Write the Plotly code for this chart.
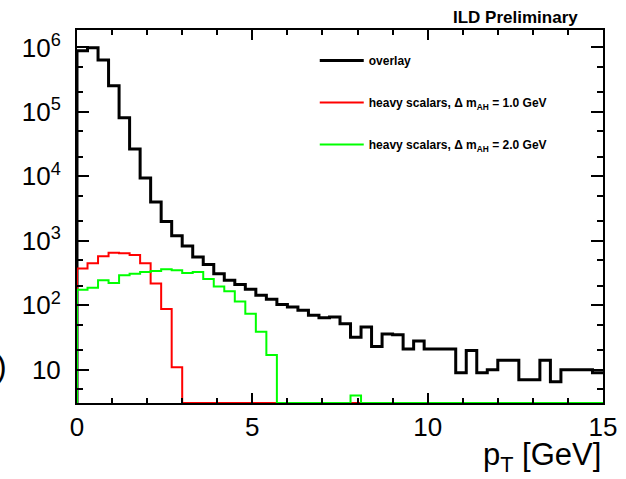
"""
p_T spectrum of overlay vs heavy scalar signals (ILD Preliminary), log scale.
"""

import numpy as np
import plotly.graph_objects as go

# 50 bins of 0.3 GeV between 0 and 15 GeV
BIN_EDGES = np.linspace(0, 15, 51)

overlay = [
    8.9e5, 9.9e5, 6.4e5, 2.55e5, 8.1e4, 2.65e4, 9.4e3, 4.0e3, 2.0e3, 1.2e3,
    830, 560, 430, 310, 244, 210, 177, 143, 124, 103,
    94, 84, 70, 64, 66, 52, 32, 46, 23, 36,
    35, 21, 28, 21, 21, 21, 9, 20, 9, 10,
    14, 14, 7, 7, 14, 6.5, 10, 10, 10, 9,
]
scalars_1gev = [371, 448, 575, 652, 640, 603, 448, 217, 88, 11] + [0] * 40
scalars_2gev = ([175, 188, 244, 222, 292, 310, 329, 341, 362, 349,
                 317, 329, 255, 195, 166, 115, 74, 39, 17]
                + [0] * 7 + [4] + [0] * 23)

names = [
    "<b>overlay</b>",
    "<b>heavy scalars, Δ m<sub>AH</sub> = 1.0 GeV</b>",
    "<b>heavy scalars, Δ m<sub>AH</sub> = 2.0 GeV</b>",
]
colors = ["black", "#ff0000", "#00ff00"]
widths = [3, 2, 2]

Y_MIN_LOG = 0.485
Y_MAX_LOG = 6.27
FLOOR = 10 ** Y_MIN_LOG   # empty bins are drawn on the axis, as ROOT does

FONT = "Liberation Sans, Arial, sans-serif"


def step_xy(counts):
    c = np.maximum(np.asarray(counts, dtype=float), FLOOR)
    x = np.concatenate([[BIN_EDGES[0]], BIN_EDGES])
    y = np.concatenate([[FLOOR], c, [c[-1]]])
    return x, y


fig = go.Figure()
for i, (counts, name, col, w) in enumerate(
        zip([overlay, scalars_1gev, scalars_2gev], names, colors, widths)):
    x, y = step_xy(counts)
    fig.add_trace(go.Scatter(
        x=x, y=y, mode="lines", name=name,
        line=dict(color=col, width=w, shape="hv"),
        legendgroup=f"g{i}",
    ))

ytickvals = [10 ** k for k in range(1, 7)]
yticktext = ["10"] + [f"10<sup>{k}</sup>" for k in range(2, 7)]

fig.update_layout(
    width=626, height=479,
    margin=dict(l=77, r=23, t=30, b=76),
    paper_bgcolor="white", plot_bgcolor="white",
    font=dict(family=FONT, color="black"),
    showlegend=True,
    legend=dict(
        x=0.452, y=0.957, xanchor="left", yanchor="top",
        bgcolor="rgba(0,0,0,0)", borderwidth=0,
        font=dict(size=12, family=FONT),
        traceorder="grouped", tracegroupgap=23,
        itemwidth=44,
    ),
    xaxis=dict(
        range=[0, 15], dtick=5, tick0=0, automargin=False,
        showgrid=False, zeroline=False,
        showline=True, linecolor="black", linewidth=2, mirror="allticks",
        ticks="inside", ticklen=10, tickwidth=1.5, tickcolor="black",
        minor=dict(dtick=1, ticks="inside", ticklen=5, tickwidth=1.5,
                   tickcolor="black", showgrid=False),
        tickfont=dict(size=26, family=FONT),
    ),
    yaxis=dict(
        type="log", range=[Y_MIN_LOG, Y_MAX_LOG], automargin=False,
        tickvals=ytickvals, ticktext=yticktext,
        showgrid=False, zeroline=False,
        showline=True, linecolor="black", linewidth=2, mirror="allticks",
        ticks="inside", ticklen=12, tickwidth=1.5, tickcolor="black",
        minor=dict(ticks="inside", ticklen=6, tickwidth=1.5,
                   tickcolor="black", showgrid=False),
        tickfont=dict(size=26, family=FONT),
        ticklabelstandoff=9,
    ),
    annotations=[
        dict(text="<b>ILD Preliminary</b>", xref="paper", yref="paper",
             x=0.956, y=1.034, xanchor="right", yanchor="middle",
             showarrow=False, font=dict(size=17, family=FONT)),
        dict(text="p<sub>T</sub> [GeV]", xref="paper", yref="paper",
             x=1.0, y=-0.085, xanchor="right", yanchor="top",
             showarrow=False, font=dict(size=31, family=FONT)),
        dict(text=")", xref="paper", yref="paper",
             x=-0.13, y=0.1, xanchor="right", yanchor="middle",
             showarrow=False, font=dict(size=32, family=FONT)),
    ],
)

# drop the browser's default 8px body margin so the 626x479 figure fills the window
fig.write_html("out.html", config={"displayModeBar": False},
               post_script="document.body.style.margin='0';")
